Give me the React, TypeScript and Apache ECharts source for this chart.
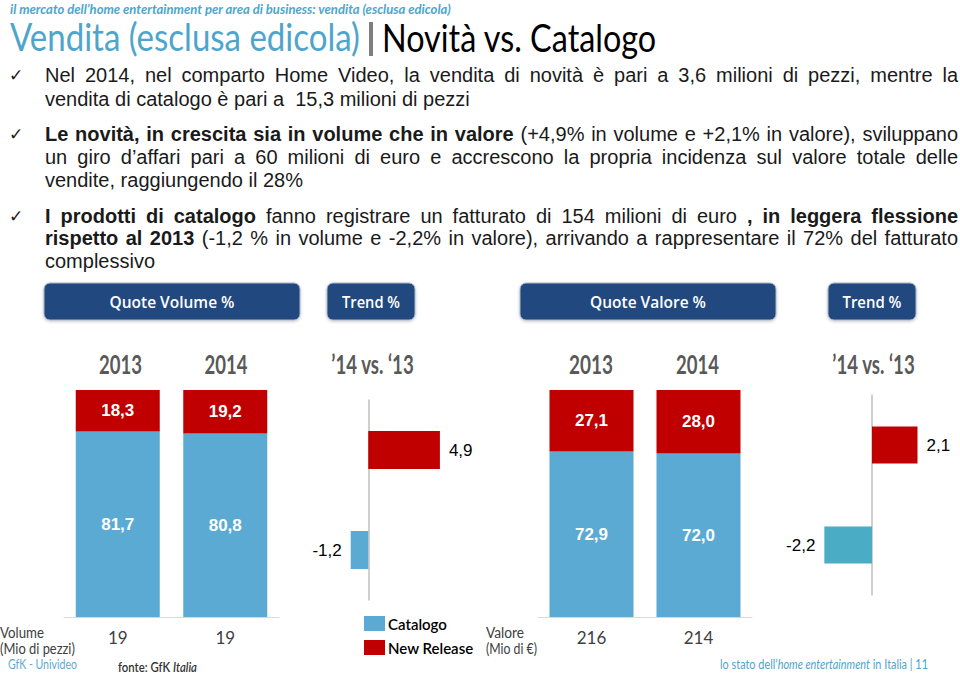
import React, { useEffect, useRef } from 'react';
import * as echarts from 'echarts';

// ---------- DATA ----------
const years = ['2013', '2014'];
const volumeCatalogo = [81.7, 80.8];
const volumeNewRelease = [18.3, 19.2];
const volumeTotals = ['19', '19'];
const valueCatalogo = [72.9, 72.0];
const valueNewRelease = [27.1, 28.0];
const valueTotals = ['216', '214'];
const trendCategories = ['Catalogo', 'New Release'];
const volumeTrend = [-1.2, 4.9];
const valueTrend = [-2.2, 2.1];
const legendNames = ['Catalogo', 'New Release'];

// ---------- STYLE ----------
const BLUE = '#5BAAD3';
const TEAL = '#4BACC6';
const RED = '#C00000';
const TITLE_BLUE = '#4EA5CB';
const NAVY = '#24497F';
const GRAY = '#595959';
const BODY_FAMILY = 'Liberation Sans';
const HUM = 'Lato';

const mcanvas = document.createElement('canvas');
const mctx = mcanvas.getContext('2d') as CanvasRenderingContext2D;
function measure(text: string, size: number, family: string, weight: string = 'normal', style: string = 'normal') {
  mctx.font = `${style} ${weight} ${size}px '${family}'`;
  return mctx.measureText(text).width;
}

const fmt = (v: number) => v.toFixed(1).replace('.', ',');

function txt(o: { text: string; x: number; y: number; w?: number; size: number; family: string; weight?: string; fstyle?: string; color: string; align?: string }) {
  const weight = o.weight || 'normal';
  const fstyle = o.fstyle || 'normal';
  let sx = 1;
  if (o.w) sx = o.w / measure(o.text, o.size, o.family, weight, fstyle);
  return {
    type: 'text', x: o.x, y: o.y, scaleX: sx, silent: true,
    style: {
      text: o.text, fontSize: o.size, fontFamily: o.family, fontWeight: weight, fontStyle: fstyle,
      fill: o.color, align: o.align || 'left', verticalAlign: 'middle',
    },
  };
}

function richTxt(parts: [boolean, string][], x: number, y: number, w: number, size: number, family: string, weight: string, color: string) {
  let total = 0;
  let s = '';
  parts.forEach(([it, t]) => {
    total += measure(t, size, family, weight, it ? 'italic' : 'normal');
    s += `{${it ? 'i' : 'n'}|${t}}`;
  });
  const base = { fontSize: size, fontFamily: family, fontWeight: weight, fill: color };
  return {
    type: 'text', x, y, scaleX: w / total, silent: true,
    style: {
      text: s, fill: color, fontSize: size, fontFamily: family, verticalAlign: 'middle', align: 'left',
      rich: { n: { ...base, fontStyle: 'normal' }, i: { ...base, fontStyle: 'italic' } },
    },
  };
}

type Seg = [boolean, string];
const bodyLines: { y: number; justify: boolean; segs: Seg[] }[] = [
  { y: 75, justify: true, segs: [[false, 'Nel 2014, nel comparto Home Video, la vendita di novità è pari a 3,6 milioni di pezzi, mentre la']] },
  { y: 99, justify: false, segs: [[false, 'vendita di catalogo è pari a  15,3 milioni di pezzi']] },
  { y: 134, justify: true, segs: [[true, 'Le novità, in crescita sia in volume che in valore'], [false, '(+4,9% in volume e +2,1% in valore), sviluppano']] },
  { y: 157, justify: true, segs: [[false, 'un giro d’affari pari a 60 milioni di euro e accrescono la propria incidenza sul valore totale delle']] },
  { y: 180, justify: false, segs: [[false, 'vendite, raggiungendo il 28%']] },
  { y: 216, justify: true, segs: [[true, 'I prodotti di catalogo'], [false, 'fanno registrare un fatturato di 154 milioni di euro'], [true, ', in leggera flessione']] },
  { y: 238, justify: true, segs: [[true, 'rispetto al 2013'], [false, '(-1,2 % in volume e -2,2% in valore), arrivando a rappresentare il 72% del fatturato']] },
  { y: 261, justify: false, segs: [[false, 'complessivo']] },
];

function bodyElements() {
  const SIZE = 20;
  const L = 45;
  const R = 958;
  const els: any[] = [];
  const space = measure(' ', SIZE, BODY_FAMILY);
  bodyLines.forEach((line) => {
    const toks: { b: boolean; t: string; w: number }[] = [];
    line.segs.forEach(([b, s]) => {
      s.split(' ').forEach((t) => {
        if (line.justify && t === '') return;
        toks.push({ b, t, w: t === '' ? 0 : measure(t, SIZE, BODY_FAMILY, b ? 'bold' : 'normal') });
      });
    });
    const sumW = toks.reduce((a, k) => a + k.w, 0);
    const gap = line.justify ? (R - L - sumW) / (toks.length - 1) : space;
    let x = L;
    toks.forEach((k) => {
      if (k.t !== '') {
        els.push({
          type: 'text', x, y: line.y, silent: true,
          style: { text: k.t, fontSize: SIZE, fontFamily: BODY_FAMILY, fontWeight: k.b ? 'bold' : 'normal', fill: '#1a1a1a', verticalAlign: 'middle' },
        });
      }
      x += k.w + gap;
    });
  });
  [75, 134, 216].forEach((y) => {
    els.push({ type: 'text', x: 9, y, silent: true, style: { text: '✓', fontSize: 17, fontFamily: 'DejaVu Sans', fill: '#1a1a1a', verticalAlign: 'middle' } });
  });
  return els;
}

function button(x: number, w: number, label: string, tw: number) {
  return [
    {
      type: 'rect', shape: { x, y: 283, width: w, height: 37, r: 6 }, silent: true,
      style: { fill: NAVY, stroke: '#A9B8CB', lineWidth: 1, shadowBlur: 3, shadowColor: 'rgba(0,0,0,0.25)', shadowOffsetY: 1 },
    },
    txt({ text: label, x: x + w / 2, y: 301.5, w: tw, size: 17, family: 'Open Sans', weight: '600', color: '#ffffff', align: 'center' }),
  ];
}

function buildOption(): any {
  const stackLabel = {
    show: true, position: 'inside', color: '#fff', fontFamily: BODY_FAMILY, fontWeight: 'bold', fontSize: 17,
    formatter: (p: any) => fmt(p.value),
  };
  const trendLabel = { show: true, color: '#000', fontFamily: BODY_FAMILY, fontSize: 17, distance: 9, formatter: (p: any) => fmt(p.value) };
  const catX = (gridIndex: number, totals: string[]) => ({
    type: 'category', gridIndex, data: years,
    axisLine: { show: true, lineStyle: { color: '#D9D9D9', width: 1 } },
    axisTick: { show: false },
    axisLabel: { formatter: (_v: string, i: number) => totals[i], fontFamily: HUM, fontSize: 17, color: '#404040', margin: 12 },
  });
  const hiddenVal = (gridIndex: number, min: number, max: number) => ({
    type: 'value', gridIndex, min, max, show: false, splitLine: { show: false },
  });
  const catY = (gridIndex: number) => ({
    type: 'category', gridIndex, data: trendCategories,
    axisLine: { show: true, onZero: true, lineStyle: { color: '#BFBFBF', width: 1.5 } },
    axisTick: { show: false }, axisLabel: { show: false }, splitLine: { show: false },
  });
  const trendData = (vals: number[], blue: string) => vals.map((v, i) => ({
    value: v,
    itemStyle: { color: i === 0 ? blue : RED },
    label: { position: v < 0 ? 'left' : 'right' },
  }));

  const graphics: any[] = [
    // titles
    txt({ text: 'il mercato dell’home entertainment per area di business: vendita (esclusa edicola)', x: 10, y: 9, w: 442, size: 14, family: HUM, weight: 'bold', fstyle: 'italic', color: TITLE_BLUE }),
    txt({ text: 'Vendita (esclusa edicola)', x: 10, y: 37, w: 350, size: 38, family: HUM, color: TITLE_BLUE }),
    { type: 'rect', shape: { x: 369, y: 22, width: 4, height: 34 }, silent: true, style: { fill: '#7F7F7F' } },
    txt({ text: 'Novità vs. Catalogo', x: 382, y: 37, w: 275, size: 38, family: HUM, color: '#000000' }),
    ...bodyElements(),
    ...button(44, 256, 'Quote Volume %', 125),
    ...button(327, 88, 'Trend %', 58),
    ...button(520, 256, 'Quote Valore %', 116),
    ...button(828, 88, 'Trend %', 59),
    // column headers
    txt({ text: years[0], x: 120.5, y: 364, w: 43, size: 26, family: HUM, weight: 'bold', color: GRAY, align: 'center' }),
    txt({ text: years[1], x: 226, y: 364, w: 43, size: 26, family: HUM, weight: 'bold', color: GRAY, align: 'center' }),
    txt({ text: '’14 vs. ‘13', x: 372.5, y: 364, w: 83, size: 26, family: HUM, weight: 'bold', color: GRAY, align: 'center' }),
    txt({ text: years[0], x: 591, y: 364, w: 44, size: 26, family: HUM, weight: 'bold', color: GRAY, align: 'center' }),
    txt({ text: years[1], x: 697.5, y: 364, w: 43, size: 26, family: HUM, weight: 'bold', color: GRAY, align: 'center' }),
    txt({ text: '’14 vs. ‘13', x: 873.5, y: 364, w: 83, size: 26, family: HUM, weight: 'bold', color: GRAY, align: 'center' }),
    // bottom side labels
    txt({ text: 'Volume', x: 0, y: 631, w: 44, size: 16, family: HUM, color: '#404040' }),
    txt({ text: '(Mio di pezzi)', x: 0, y: 648, w: 75, size: 16, family: HUM, color: '#404040' }),
    txt({ text: 'Valore', x: 486, y: 632, w: 38, size: 16, family: HUM, color: '#404040' }),
    txt({ text: '(Mio di €)', x: 486, y: 648, w: 51, size: 16, family: HUM, color: '#404040' }),
    // footers
    txt({ text: 'GfK - Univideo', x: 8, y: 664, w: 69, size: 13, family: HUM, color: BLUE }),
    richTxt([[false, 'fonte: GfK '], [true, 'Italia']], 118, 667, 79, 13, HUM, '600', '#333333'),
    richTxt([[false, 'lo stato dell’'], [true, 'home entertainment'], [false, ' in Italia | 11']], 720, 664, 208, 13, HUM, 'normal', TITLE_BLUE),
  ];

  return {
    animation: false,
    backgroundColor: '#ffffff',
    textStyle: { fontFamily: BODY_FAMILY },
    legend: {
      data: legendNames, orient: 'vertical', left: 364, top: 616, padding: 0,
      itemWidth: 21, itemHeight: 15, itemGap: 9, icon: 'rect', selectedMode: false,
      textStyle: { fontFamily: HUM, fontSize: 15, fontWeight: '600', color: '#000', padding: [0, 0, 0, -2] },
    },
    grid: [
      { left: 64, top: 390, width: 215, height: 227 },
      { left: 339, top: 400, width: 117, height: 200 },
      { left: 538, top: 390, width: 214, height: 227 },
      { left: 807, top: 395, width: 130, height: 200 },
    ],
    xAxis: [
      catX(0, volumeTotals),
      hiddenVal(1, -2, 6),
      catX(2, valueTotals),
      hiddenVal(3, -3, 3),
    ],
    yAxis: [
      hiddenVal(0, 0, 100),
      catY(1),
      hiddenVal(2, 0, 100),
      catY(3),
    ],
    series: [
      { type: 'bar', name: 'Catalogo', xAxisIndex: 0, yAxisIndex: 0, stack: 'vol', barWidth: 84, data: volumeCatalogo, itemStyle: { color: BLUE }, label: stackLabel },
      { type: 'bar', name: 'New Release', xAxisIndex: 0, yAxisIndex: 0, stack: 'vol', barWidth: 84, data: volumeNewRelease, itemStyle: { color: RED }, label: stackLabel },
      { type: 'bar', name: 'Trend volume', xAxisIndex: 1, yAxisIndex: 1, barWidth: 38, data: trendData(volumeTrend, BLUE), label: trendLabel },
      { type: 'bar', name: 'Catalogo', xAxisIndex: 2, yAxisIndex: 2, stack: 'val', barWidth: 84, data: valueCatalogo, itemStyle: { color: BLUE }, label: stackLabel },
      { type: 'bar', name: 'New Release', xAxisIndex: 2, yAxisIndex: 2, stack: 'val', barWidth: 84, data: valueNewRelease, itemStyle: { color: RED }, label: stackLabel },
      { type: 'bar', name: 'Trend valore', xAxisIndex: 3, yAxisIndex: 3, barWidth: 37, data: trendData(valueTrend, TEAL), label: trendLabel },
    ],
    graphic: graphics,
  };
}

export default function App() {
  const ref = useRef<HTMLDivElement>(null);
  useEffect(() => {
    const chart = echarts.init(ref.current as HTMLDivElement, null, { renderer: 'svg' });
    chart.setOption(buildOption());
    return () => chart.dispose();
  }, []);
  return <div ref={ref} style={{ position: 'fixed', left: 0, top: 0, width: 960, height: 674, background: '#fff' }} />;
}
